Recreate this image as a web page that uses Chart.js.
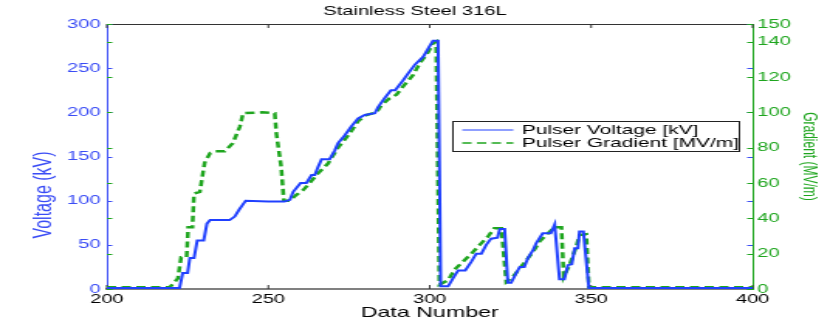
<!DOCTYPE html>
<html>
<head>
<meta charset="utf-8">
<script src="https://cdn.jsdelivr.net/npm/chart.js@4.4.1/dist/chart.umd.min.js"></script>
<style>
  html, body { margin: 0; padding: 0; background: #fff; overflow: hidden; }
  /* the reference is a horizontally stretched MATLAB figure, so draw narrow and stretch */
  #wrap { width: 536px; height: 327px; transform: scaleX(1.5485); transform-origin: 0 0; }
</style>
</head>
<body>
<div id="wrap"><canvas id="chart" width="536" height="327"></canvas></div>
<script>
// data
const voltX  = [200, 222.5, 223.5, 225, 225.7, 227, 228, 230, 231, 232, 238, 239.6, 241, 243, 250, 255, 256.7, 257.7, 260, 261.8, 263.4, 264.4, 265.4, 266.5, 269, 270.6, 271.6, 273.7, 275.7, 277.8, 279.9, 283, 284, 286, 288, 289.3, 291.7, 293.3, 295.4, 298, 299.5, 301, 302.6, 303.4, 305.7, 307.2, 308.8, 311, 312.9, 314.4, 316, 317.5, 319, 321, 321.7, 323.2, 324.2, 325.2, 326.8, 327.9, 329.3, 330.4, 332, 333, 335, 337.5, 338.7, 340.2, 341.7, 342.8, 344, 344.9, 345.9, 346.4, 347.6, 349.3, 400];
const voltKV = [1, 1, 18, 18, 35, 35, 55, 55, 74, 78, 78, 82, 90, 100, 99, 99, 101, 110, 120, 120, 129, 129, 138, 147, 147, 157, 165, 174, 184, 193, 197, 199, 206, 216, 225, 225, 236, 244, 254, 263, 272, 281, 281, 3, 3, 12, 21, 21, 31, 40, 40, 50, 57, 58, 68, 68, 7, 7, 18, 25, 25, 35, 44, 52, 63, 63, 73, 11, 11, 27, 28, 46, 46, 65, 65, 1, 1];

const gradX  = [200, 219.5, 222, 223, 224.7, 225.2, 226.5, 227, 228.8, 230.3, 232, 233.4, 236.5, 239, 241.2, 242.2, 248, 252, 252.5, 254, 254.8, 256.6, 258.5, 260.8, 262.8, 265.4, 268.5, 271.6, 275.2, 277.8, 280.4, 283.5, 285, 287.6, 289.7, 291.7, 294.8, 297, 299.5, 301, 302, 303, 305.7, 307.7, 310.3, 312.9, 315.5, 318, 320, 322.2, 323.7, 325.8, 327.9, 330, 332, 334, 336.6, 338.7, 340.8, 341.5, 343.3, 345.4, 346.4, 348.5, 349.3, 400];
const gradMV = [1, 1, 6, 18, 18, 35, 35, 54, 55, 71.5, 77, 78, 78, 82.5, 92, 99.5, 100, 99.5, 88, 69, 50, 50, 53, 56, 60, 65.5, 71, 80, 88, 95, 98.5, 100, 104, 108, 110, 114.5, 121, 128, 134, 139, 140, 2.5, 5, 11, 15.5, 20, 25, 29.6, 34.4, 34.4, 4, 7, 11.7, 16.4, 21, 26.8, 31.5, 35, 35, 7, 13.5, 24, 30.5, 31, 1, 1];

const xTicks     = [200, 250, 300, 350, 400];
const leftTicks  = [0, 50, 100, 150, 200, 250, 300];
const rightTicks = [0, 20, 40, 60, 80, 100, 120, 140, 150];

const BLUE = "#2040ff";
const BLUE_AX = "#3a4cf5";
const GREEN = "#1ea51e";
const FONT = "'Liberation Sans', Arial, sans-serif";
const leftTitle = "Voltage (kV)";

function setTicks(list) {
  return scale => { scale.ticks = list.map(v => ({ value: v })); };
}

// inner tick marks, MATLAB style, plus the top frame line
const frame = {
  id: "frame",
  beforeDatasetsDraw(chart) {
    const { ctx, chartArea: a, scales } = chart;
    ctx.save();
    ctx.lineWidth = 1;
    ctx.strokeStyle = "#333";
    ctx.beginPath();
    ctx.moveTo(a.left, a.top + 0.5);
    ctx.lineTo(a.right, a.top + 0.5);
    ctx.stroke();

    xTicks.forEach(v => {
      const x = scales.x.getPixelForValue(v);
      ctx.beginPath();
      ctx.moveTo(x, a.bottom); ctx.lineTo(x, a.bottom - 4);
      ctx.moveTo(x, a.top); ctx.lineTo(x, a.top + 4);
      ctx.stroke();
    });
    ctx.strokeStyle = BLUE_AX;
    leftTicks.forEach(v => {
      const y = Math.round(scales.y.getPixelForValue(v)) + 0.5;
      ctx.beginPath();
      ctx.moveTo(a.left, y); ctx.lineTo(a.left + 3.5, y);
      ctx.moveTo(a.right, y); ctx.lineTo(a.right - 3.5, y);
      ctx.stroke();
    });
    ctx.strokeStyle = GREEN;
    rightTicks.forEach(v => {
      const y = Math.round(scales.y1.getPixelForValue(v)) + 0.5;
      ctx.beginPath();
      ctx.moveTo(a.left, y); ctx.lineTo(a.left + 3.5, y);
      ctx.moveTo(a.right, y); ctx.lineTo(a.right - 3.5, y);
      ctx.stroke();
    });
    ctx.restore();
  },
  afterDraw(chart) {
    const { ctx } = chart;
    const ds = chart.data.datasets;
    ctx.save();

    // left axis label, sits a bit low like in the figure
    ctx.translate(29, 195);
    ctx.rotate(-Math.PI / 2);
    ctx.font = "16px " + FONT;
    ctx.fillStyle = BLUE_AX;
    ctx.textAlign = "center";
    ctx.textBaseline = "middle";
    ctx.fillText(leftTitle, 0, 0);
    ctx.setTransform(1, 0, 0, 1, 0, 0);
    ctx.restore();

    // legend box inside the plot
    ctx.save();
    ctx.fillStyle = "#fff";
    ctx.fillRect(292, 121, 186, 31);
    ctx.strokeStyle = "#222";
    ctx.lineWidth = 1;
    ctx.strokeRect(292.5, 121.5, 185, 30);
    ctx.font = "13.5px " + FONT;
    ctx.textBaseline = "middle";
    ctx.fillStyle = "#000";
    const rows = [130, 143];
    ds.forEach((d, i) => {
      ctx.strokeStyle = d.borderColor;
      ctx.lineWidth = i === 0 ? 1 : 1.5;
      ctx.setLineDash(d.borderDash || []);
      ctx.beginPath();
      ctx.moveTo(298.5, rows[i]); ctx.lineTo(331.5, rows[i]);
      ctx.stroke();
      ctx.setLineDash([]);
      ctx.fillText(d.label, 337, rows[i] + 0.5);
    });
    ctx.restore();
  }
};

new Chart(document.getElementById("chart"), {
  type: "line",
  data: {
    datasets: [{
      label: "Pulser Voltage [kV]",
      data: voltX.map((x, i) => ({ x: x, y: voltKV[i] })),
      borderColor: BLUE,
      borderWidth: 2,
      pointRadius: 0,
      tension: 0,
      yAxisID: "y"
    }, {
      label: "Pulser Gradient [MV/m]",
      data: gradX.map((x, i) => ({ x: x, y: gradMV[i] })),
      borderColor: GREEN,
      borderWidth: 2.5,
      borderDash: [6, 3.5],
      pointRadius: 0,
      tension: 0,
      yAxisID: "y1"
    }]
  },
  options: {
    responsive: false,
    animation: false,
    layout: { padding: 0 },
    plugins: {
      legend: { display: false },
      tooltip: { enabled: false },
      title: {
        display: true,
        text: "Stainless Steel 316L",
        color: "#000",
        font: { family: FONT, size: 13, weight: "normal" },
        padding: { top: 3.5, bottom: 4.9 }
      }
    },
    scales: {
      x: {
        type: "linear",
        min: 200, max: 400,
        afterBuildTicks: setTicks(xTicks),
        afterFit: s => { s.height = 38; },
        grid: { display: true, drawOnChartArea: false, drawTicks: false },
        border: { color: "#808080", width: 2 },
        ticks: { color: "#000", padding: 3, maxRotation: 0, font: { family: FONT, size: 13 } },
        title: {
          display: true, text: "Data Number", color: "#000",
          font: { family: FONT, size: 15 }, padding: { top: 0, bottom: 5 }
        }
      },
      y: {
        position: "left",
        min: 0, max: 300,
        afterBuildTicks: setTicks(leftTicks),
        afterFit: s => { s.width = 69; },
        grid: { display: true, drawOnChartArea: false, drawTicks: false },
        border: { color: BLUE_AX, width: 1 },
        ticks: { color: BLUE_AX, padding: 4, font: { family: FONT, size: 13 } },
        title: { display: false }
      },
      y1: {
        position: "right",
        min: 0, max: 150,
        afterBuildTicks: setTicks(rightTicks),
        afterFit: s => { s.width = 50; },
        grid: { display: true, drawOnChartArea: false, drawTicks: false },
        border: { color: GREEN, width: 1 },
        ticks: { color: GREEN, padding: 3, font: { family: FONT, size: 13 } },
        title: {
          display: true, text: "Gradient (MV/m)", color: GREEN,
          font: { family: FONT, size: 12 }, padding: { top: 6.4, bottom: 0 }
        }
      }
    }
  },
  plugins: [frame]
});
</script>
</body>
</html>
